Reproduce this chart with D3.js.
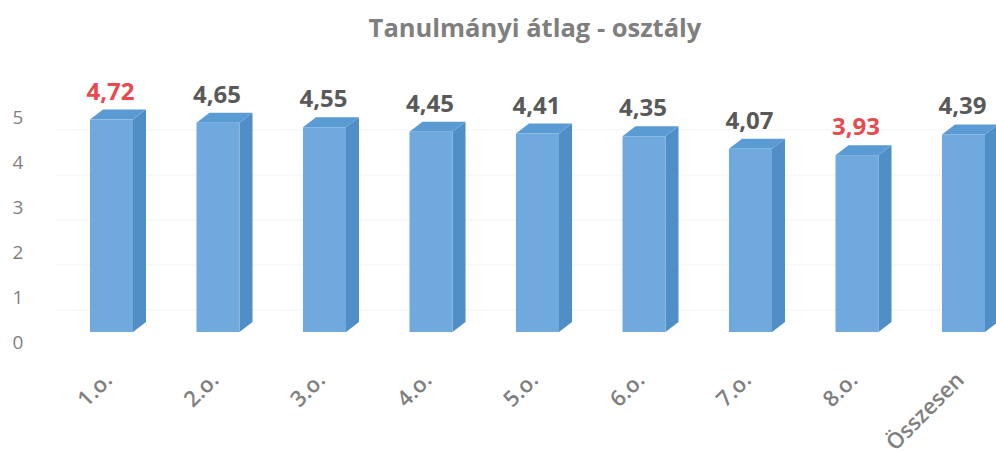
<!DOCTYPE html>
<html><head><meta charset="utf-8">
<script src="https://cdn.jsdelivr.net/npm/d3@7/dist/d3.min.js"></script>
<style>body{margin:0;background:#fff}svg{display:block}</style>
</head><body>
<svg id="c" width="996" height="452"></svg>
<script>
const categories = ["1.o.","2.o.","3.o.","4.o.","5.o.","6.o.","7.o.","8.o.","Összesen"];
const values = [4.72,4.65,4.55,4.45,4.41,4.35,4.07,3.93,4.39];
const labels = ["4,72","4,65","4,55","4,45","4,41","4,35","4,07","3,93","4,39"];
const highlighted = ["4,72","3,93"];
const yTicks = [0,1,2,3,4,5];
const title = "Tanulmányi átlag - osztály";

const svg = d3.select("#c");
const x = d3.scalePoint().domain(categories).range([111.5, 963.5]);
const y = d3.scaleLinear().domain([0,5]).range([342,117]);
const barOff = 10, bw = 43, dx = 13, dy = 10;
const font = "'Open Sans', 'DejaVu Sans', sans-serif";

// faint gridlines
svg.append("g").selectAll("line").data(yTicks.slice(1)).join("line")
  .attr("x1", 55).attr("x2", 996)
  .attr("y1", d => y(d) + 13).attr("y2", d => y(d) + 13)
  .attr("stroke", "#f3f3f3").attr("stroke-width", 1);

// title
svg.append("text").attr("x", 535).attr("y", 37).attr("text-anchor","middle")
  .attr("font-family", font).attr("font-weight", 700).attr("font-size", 25.5)
  .attr("fill", "#7f7f7f").text(title);

// y axis
const ya = svg.append("g").attr("transform","translate(18,0)")
  .call(d3.axisLeft(y).tickValues(yTicks).tickSize(0).tickFormat(d3.format("d")));
ya.select(".domain").remove();
ya.selectAll("text").attr("text-anchor","middle").attr("x",0)
  .attr("font-family", font).attr("font-size", 19).attr("fill","#7f7f7f");

// bars
const g = svg.append("g");
const bars = g.selectAll("g.bar").data(categories).join("g").attr("class","bar");
bars.each(function(c, i){
  const el = d3.select(this);
  const x0 = x(c) - bw/2, x1 = x0 + bw;
  const yt = y(values[i]) - barOff, yb = y(0) - barOff;
  el.append("polygon").attr("points", [[x1,yt],[x1+dx,yt-dy],[x1+dx,yb-dy],[x1,yb]].join(" "))
    .attr("fill","#4f8ec6");
  el.append("polygon").attr("points", [[x0,yt],[x0+dx,yt-dy],[x1+dx,yt-dy],[x1,yt]].join(" "))
    .attr("fill","#5a9bd3");
  el.append("rect").attr("x", x0).attr("y", yt).attr("width", bw).attr("height", yb-yt)
    .attr("fill","#70a9dd");
  el.append("text").attr("x", x(c) - 1).attr("y", yt - dy - 10).attr("text-anchor","middle")
    .attr("font-family", font).attr("font-weight", 700).attr("font-size", 24)
    .attr("fill", highlighted.includes(labels[i]) ? "#e8494e" : "#595959").text(labels[i]);
});

// x axis labels
const xa = svg.append("g").attr("transform","translate(0,376)")
  .call(d3.axisBottom(x).tickSize(0));
xa.select(".domain").remove();
xa.selectAll("text")
  .attr("font-family", font).attr("font-size", 22).attr("font-weight", 600).attr("fill","#7f7f7f")
  .attr("text-anchor","end").attr("dy","0.35em").attr("y",0)
  .attr("transform","translate(-4,0) rotate(-45)");
</script>
</body></html>
